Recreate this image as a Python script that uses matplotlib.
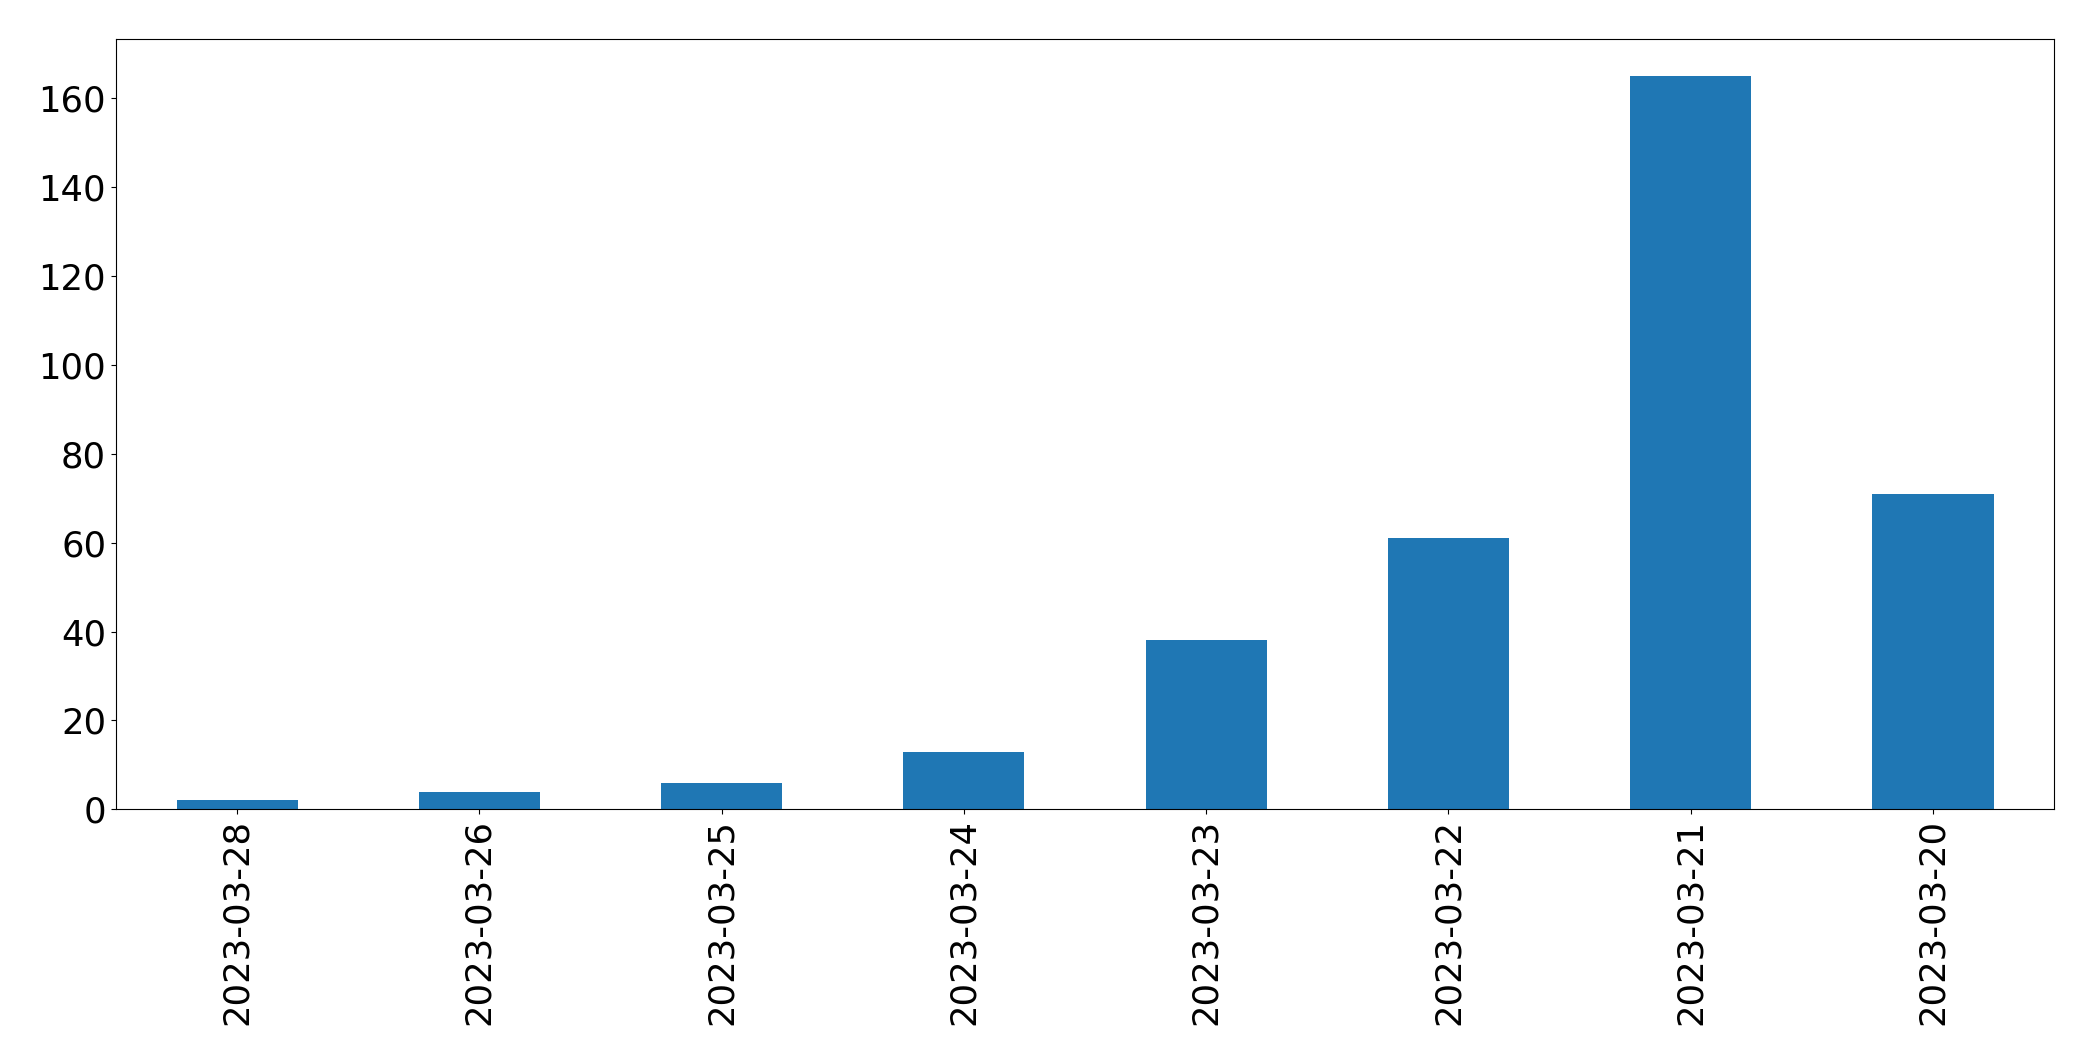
import numpy as np
import pandas as pd
import matplotlib
matplotlib.use("Agg")
import matplotlib.pyplot as plt

# DATES AND COUNTS PER DAY
dates = ["2023-03-28", "2023-03-26", "2023-03-25", "2023-03-24",
         "2023-03-23", "2023-03-22", "2023-03-21", "2023-03-20"]
counts = [2, 4, 6, 13, 38, 61, 165, 71]

series = pd.Series(counts, index=dates)

fig = plt.figure(figsize=(20.93, 10.61), dpi=100)
ax = fig.add_axes([0.0554, 0.2372, 0.9814 - 0.0554, 0.963 - 0.2372])
series.plot(kind="bar", ax=ax, color="#1f77b4", fontsize=25.5)

plt.savefig("out.png", dpi=100)
